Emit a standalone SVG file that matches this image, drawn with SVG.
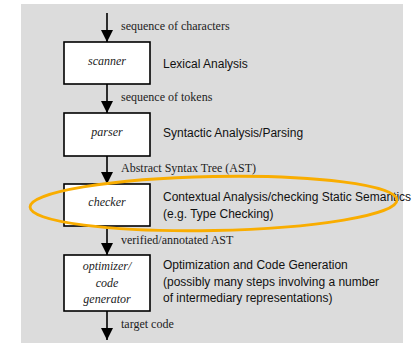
<svg xmlns="http://www.w3.org/2000/svg" width="414" height="343" viewBox="0 0 414 343">
<defs>
<marker id="ah" markerUnits="userSpaceOnUse" markerWidth="12" markerHeight="14" refX="12" refY="6" orient="auto">
<path d="M0,0 L12,6 L0,12 Z" fill="#000"/>
</marker>
<style>
.box{fill:#fff;stroke:#000;stroke-width:1.6}
.name{font-family:"Liberation Serif",serif;font-style:italic;font-size:12px;fill:#222;text-anchor:middle}
.lbl{font-family:"Liberation Serif",serif;font-size:12px;fill:#222}
.desc{font-family:"Liberation Sans",Arial,sans-serif;font-size:12px;fill:#111}
.conn{stroke:#000;stroke-width:1.6;fill:none;marker-end:url(#ah)}
</style>
</defs>
<rect x="0" y="0" width="414" height="343" fill="#fff"/>
<rect x="21" y="4" width="382" height="339" fill="#dcdcdc"/>
<g id="connectors">
<line class="conn" x1="107" y1="13" x2="107" y2="42"/>
<line class="conn" x1="107" y1="84" x2="107" y2="113"/>
<line class="conn" x1="107" y1="156" x2="107" y2="184"/>
<line class="conn" x1="107" y1="226" x2="107" y2="255"/>
<line class="conn" x1="107" y1="311" x2="107" y2="340"/>
<text class="lbl" x="121" y="30">sequence of characters</text>
<text class="lbl" x="121" y="101">sequence of tokens</text>
<text class="lbl" x="121" y="172">Abstract Syntax Tree (AST)</text>
<text class="lbl" x="121" y="244">verified/annotated AST</text>
<text class="lbl" x="121" y="328">target code</text>
</g>
<g id="scanner">
<rect class="box" x="64" y="42" width="86" height="42"/>
<text class="name" x="107" y="65">scanner</text>
<text class="desc" x="163" y="67.5">Lexical Analysis</text>
</g>
<g id="parser">
<rect class="box" x="64" y="113" width="86" height="43"/>
<text class="name" x="107" y="135.5">parser</text>
<text class="desc" x="163" y="137">Syntactic Analysis/Parsing</text>
</g>
<g id="checker">
<rect class="box" x="64" y="184" width="86" height="42"/>
<text class="name" x="107" y="206">checker</text>
<text class="desc" x="163" y="201">Contextual Analysis/checking Static Semantics</text>
<text class="desc" x="163" y="217.5">(e.g. Type Checking)</text>
</g>
<g id="optimizer">
<rect class="box" x="64" y="255" width="86" height="56"/>
<text class="name" x="107" y="270">optimizer/</text>
<text class="name" x="107" y="286.5">code</text>
<text class="name" x="107" y="303">generator</text>
<text class="desc" x="163" y="269">Optimization and Code Generation</text>
<text class="desc" x="163" y="285.5">(possibly many steps involving a number</text>
<text class="desc" x="163" y="302">of intermediary representations)</text>
</g>
<g id="highlight">
<ellipse cx="213.5" cy="203.5" rx="183.5" ry="27" transform="rotate(-1.1 213.5 203.5)" fill="none" stroke="#f9ad00" stroke-width="2.8"/>
</g>
</svg>
